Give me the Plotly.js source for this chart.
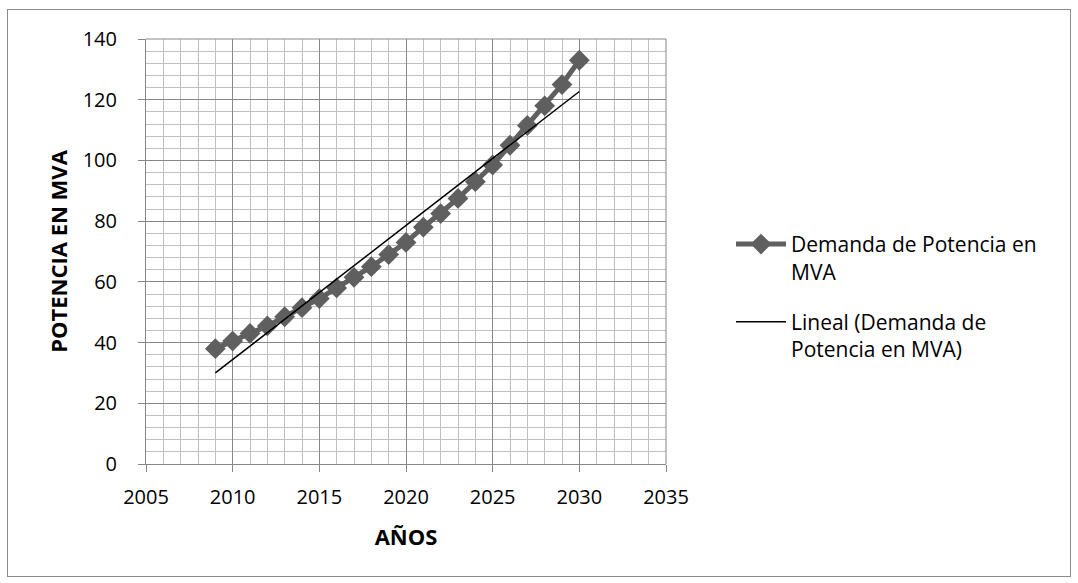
<!DOCTYPE html>
<html>
<head>
<meta charset="utf-8">
<script src="https://cdn.plot.ly/plotly-3.0.1.min.js"></script>
<style>
html,body{margin:0;padding:0;background:#fff;}
#wrap{position:relative;width:1078px;height:583px;}
#chart{width:1078px;height:583px;}
#frame{position:absolute;left:7px;top:9px;width:1062px;height:566px;border:1px solid #8c8c8c;pointer-events:none;}
</style>
</head>
<body>
<div id="wrap"><div id="chart"></div><div id="frame"></div></div>
<script>
const years = [2009,2010,2011,2012,2013,2014,2015,2016,2017,2018,2019,2020,2021,2022,2023,2024,2025,2026,2027,2028,2029,2030];
const demand = [38,40.5,43,45.5,48.5,51.5,54.5,58,61.5,65,69,73,78,82.5,87.5,93,98.5,105,111.5,118,125,133];
const seriesName = "Demanda de Potencia en<br>MVA";
const trendName = "Lineal (Demanda de<br>Potencia en MVA)";
const xTitle = "AÑOS";
const yTitle = "POTENCIA EN MVA";

// least-squares linear trend from the data
const n = years.length;
const mx = years.reduce((a,b)=>a+b,0)/n;
const my = demand.reduce((a,b)=>a+b,0)/n;
let sxy=0, sxx=0;
for(let i=0;i<n;i++){sxy+=(years[i]-mx)*(demand[i]-my);sxx+=(years[i]-mx)**2;}
const slope = sxy/sxx, icpt = my - slope*mx;
const trendX = [years[0], years[n-1]];
const trendY = trendX.map(x=>icpt+slope*x);

const font = "Open Sans, Liberation Sans, sans-serif";
const data = [
  {x:years, y:demand, type:'scatter', mode:'lines+markers', name:seriesName, legendgroup:'a',
   line:{color:'#5f5f5f', width:5}, marker:{symbol:'diamond', size:16, color:'#5f5f5f'}},
  {x:trendX, y:trendY, type:'scatter', mode:'lines', name:trendName, legendgroup:'b',
   line:{color:'#000000', width:1.5}}
];
const layout = {
  width:1078, height:583,
  margin:{l:146, r:412, t:39, b:119},
  paper_bgcolor:'#ffffff', plot_bgcolor:'#ffffff',
  font:{family:font, size:20, color:'#000'},
  showlegend:true,
  legend:{x:1.125, y:0.565, xanchor:'left', yanchor:'top', font:{family:font, size:21, color:'#000'},
          itemwidth:50, bgcolor:'rgba(0,0,0,0)', traceorder:'grouped', tracegroupgap:20, valign:'top'},
  xaxis:{range:[2005,2035], dtick:5, tick0:2005, showgrid:true, gridcolor:'#878787', gridwidth:1,
         minor:{dtick:1, showgrid:true, gridcolor:'#c0c0c0', gridwidth:1},
         ticks:'outside', ticklen:7, tickcolor:'#878787', showline:true, linecolor:'#878787', linewidth:1,
         zeroline:false, tickfont:{family:font, size:20}, ticklabelstandoff:8,
         title:{text:'<b>'+xTitle+'</b>', font:{family:font, size:22}, standoff:20}},
  yaxis:{range:[0,140], dtick:20, showgrid:true, gridcolor:'#878787', gridwidth:1,
         minor:{dtick:4, showgrid:true, gridcolor:'#c0c0c0', gridwidth:1},
         ticks:'outside', ticklen:7, tickcolor:'#878787', showline:true, linecolor:'#878787', linewidth:1,
         zeroline:false, tickfont:{family:font, size:20}, ticklabelstandoff:17,
         title:{text:'<b>'+yTitle+'</b>', font:{family:font, size:22}, standoff:8}},
  shapes:[{type:'line', xref:'paper', yref:'paper', x0:1, x1:1, y0:0, y1:1, line:{color:'#878787', width:1}},
          {type:'line', xref:'paper', yref:'paper', x0:0, x1:1, y0:1, y1:1, line:{color:'#878787', width:1}}]
};
Plotly.newPlot('chart', data, layout, {displayModeBar:false, staticPlot:true});
</script>
</body>
</html>
